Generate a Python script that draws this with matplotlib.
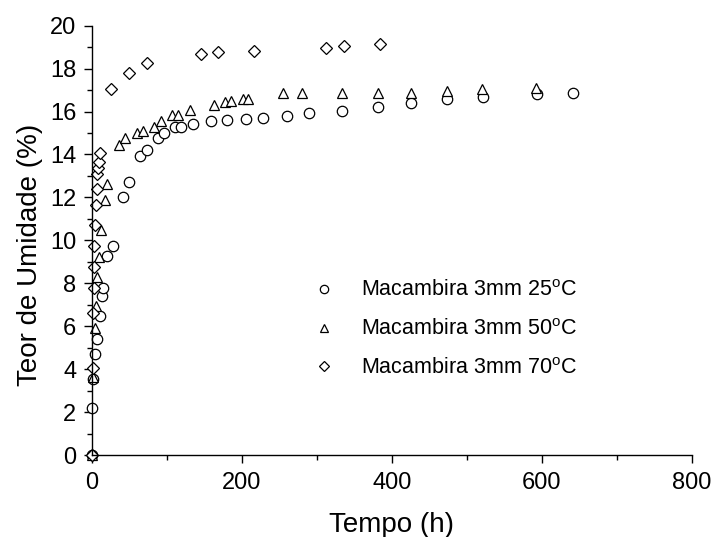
import matplotlib
matplotlib.use("Agg")
import matplotlib.pyplot as plt
from matplotlib.ticker import MultipleLocator

plt.rcParams["font.family"] = ["Liberation Sans", "DejaVu Sans"]
plt.rcParams["mathtext.fontset"] = "custom"
plt.rcParams["mathtext.rm"] = "Liberation Sans"

# Macambira 3mm 25 C
t25 = [0, 0.5, 1.5, 3.5, 6, 10, 13, 14, 19.5, 28, 41, 49, 64, 73, 88, 96, 111, 119,
       134, 158, 180, 205, 228, 260, 289, 333, 382, 426, 474, 521, 593, 641]
u25 = [0, 2.2, 3.52, 4.69, 5.39, 6.47, 7.41, 7.76, 9.25, 9.73, 12.03, 12.73, 13.94,
       14.21, 14.78, 14.98, 15.26, 15.29, 15.43, 15.54, 15.6, 15.64, 15.7, 15.79,
       15.93, 16.04, 16.19, 16.38, 16.58, 16.69, 16.8, 16.87]

# Macambira 3mm 50 C
t50 = [0, 1.5, 3.5, 5, 7, 9, 12.5, 17, 20, 36, 44, 60, 68, 83, 92, 106, 114, 130,
       162, 177, 185, 201, 208, 254, 280, 333, 382, 426, 474, 520, 592]
u50 = [0, 3.65, 5.9, 6.94, 8.28, 9.24, 10.48, 11.88, 12.64, 14.42, 14.75, 15.01,
       15.08, 15.29, 15.57, 15.82, 15.82, 16.07, 16.32, 16.43, 16.48, 16.57, 16.6,
       16.85, 16.85, 16.85, 16.87, 16.87, 16.94, 17.03, 17.1]

# Macambira 3mm 70 C
t70 = [0, 1, 1.5, 2, 2.5, 3, 4, 5, 6, 7, 8, 9, 10, 25, 49, 73, 145, 168, 216, 312,
       336, 384]
u70 = [0, 4.05, 6.63, 7.76, 8.77, 9.73, 10.71, 11.66, 12.38, 13.1, 13.35, 13.66,
       14.06, 17.05, 17.78, 18.27, 18.68, 18.76, 18.82, 18.96, 19.06, 19.16]

fig = plt.figure(figsize=(7.14, 5.37), dpi=100)
ax = fig.add_axes([0.129, 0.1527, 0.840, 0.7995])

mk = dict(ls="none", mfc="white", mec="black", mew=0.9, ms=7.5, clip_on=False)
ax.plot(t25, u25, marker="o", label=r"Macambira 3mm 25$^{\rm o}$C", **mk)
ax.plot(t50, u50, marker="^", label=r"Macambira 3mm 50$^{\rm o}$C", **mk)
ax.plot(t70, u70, marker="D", label=r"Macambira 3mm 70$^{\rm o}$C", **dict(mk, ms=6.5))

ax.set_xlim(0, 800)
ax.set_ylim(0, 20)
ax.xaxis.set_major_locator(MultipleLocator(200))
ax.xaxis.set_minor_locator(MultipleLocator(100))
ax.yaxis.set_major_locator(MultipleLocator(2))
ax.yaxis.set_minor_locator(MultipleLocator(1))
for s in ["top", "right"]:
    ax.spines[s].set_visible(False)
for s in ["left", "bottom"]:
    ax.spines[s].set_linewidth(1.0)
ax.tick_params(which="major", direction="out", length=6, width=1.0, labelsize=17)
ax.tick_params(which="minor", direction="out", length=3.5, width=1.0)
ax.tick_params(axis="x", which="major", pad=6)
ax.tick_params(axis="y", which="major", pad=5.5)
ax.set_xlabel("Tempo (h)", fontsize=20, labelpad=13)
ax.set_ylabel("Teor de Umidade (%)", fontsize=20)
ax.yaxis.set_label_coords(-0.0825, 0.467)

leg = ax.legend(loc="center left", bbox_to_anchor=(0.337, 0.292), frameon=False,
                fontsize=15.5, markerscale=0.8, handletextpad=1.2, labelspacing=0.83,
                handlelength=1.0)

fig.savefig("out.png", dpi=100)
